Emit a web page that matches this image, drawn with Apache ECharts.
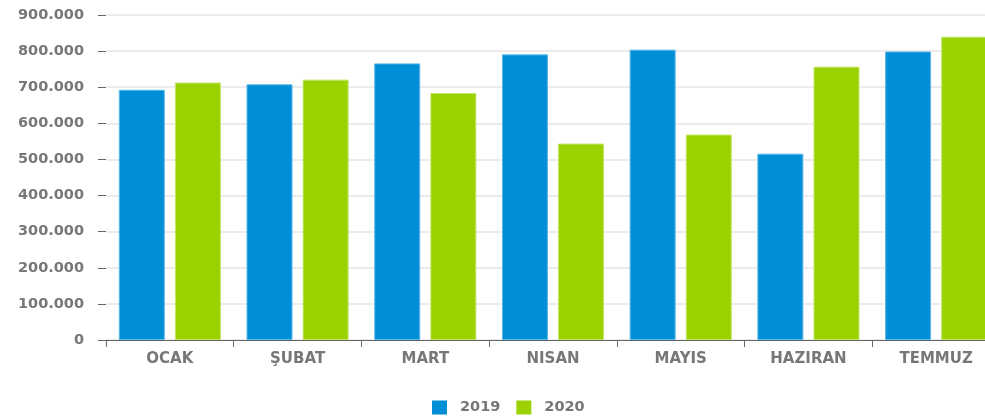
<!DOCTYPE html>
<html>
<head>
<meta charset="utf-8">
<script src="https://cdn.jsdelivr.net/npm/echarts@6/dist/echarts.min.js"></script>
<style>
html,body{margin:0;padding:0;overflow:hidden;background:#fff;}
#c{width:1000px;height:419px;}
</style>
</head>
<body>
<div id="c"></div>
<script>
const categories = ['OCAK','ŞUBAT','MART','NISAN','MAYIS','HAZIRAN','TEMMUZ'];
const series2019 = [693000, 708000, 766000, 791000, 804000, 516000, 799000];
const series2020 = [713000, 721000, 684000, 544000, 569000, 757000, 840000];
const seriesNames = ['2019','2020'];
const yTicks = [0,100000,200000,300000,400000,500000,600000,700000,800000,900000];

const textColor = '#777777';
const font = 'DejaVu Sans';
function fmt(v){
  if (v === 0) return '0';
  return String(v).replace(/\B(?=(\d{3})+(?!\d))/g, '.');
}
const chart = echarts.init(document.getElementById('c'));
chart.setOption({
  animation:false,
  grid:{left:106,right:0,top:15,bottom:79},
  legend:{
    data:seriesNames,
    left:427, top:395,
    itemWidth:15, itemHeight:14, itemGap:16,
    icon:'rect',
    itemStyle:{borderWidth:0},
    textStyle:{color:textColor,fontFamily:font,fontWeight:'bold',fontSize:14.5,padding:[0,0,0,8]}
  },
  xAxis:{
    type:'category',
    data:categories,
    axisLine:{lineStyle:{color:'#666',width:1}},
    axisTick:{show:true,length:7,lineStyle:{color:'#666'}},
    axisLabel:{color:textColor,fontFamily:font,fontWeight:'bold',fontSize:15,margin:12}
  },
  yAxis:{
    type:'value',
    min:yTicks[0], max:yTicks[yTicks.length-1], interval:100000,
    axisLine:{show:false},
    axisTick:{show:true,length:8,lineStyle:{color:'#666'}},
    splitLine:{lineStyle:{color:'#e6e6e6',width:1.5}},
    axisLabel:{color:textColor,fontFamily:font,fontWeight:'bold',fontSize:14.5,margin:22,formatter:fmt}
  },
  series:[
    {name:seriesNames[0],type:'bar',data:series2019,barWidth:46,barGap:'22%',
     itemStyle:{color:'#008ed6',borderColor:'#5ab8ea',borderWidth:1}},
    {name:seriesNames[1],type:'bar',data:series2020,barWidth:46,
     itemStyle:{color:'#9bd100',borderColor:'#c3e66a',borderWidth:1}}
  ]
});
</script>
</body>
</html>
